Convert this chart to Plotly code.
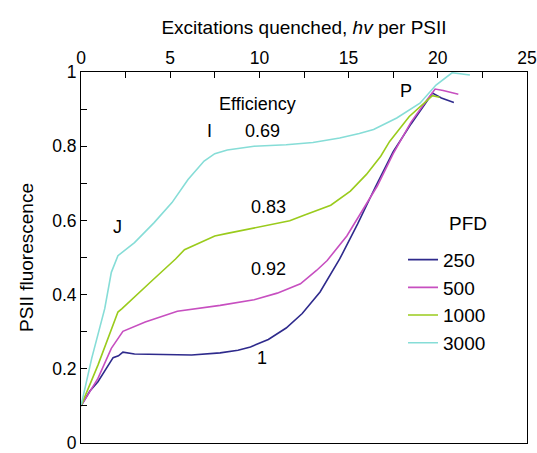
import plotly.graph_objects as go

# PFD 250
x250 = [0, 0.5, 0.95, 1.4, 1.8, 2.1, 2.35, 3.0, 4.5, 6.2, 7.8, 8.8, 9.5, 10.5, 11.5, 12.4, 13.4, 14.5, 15.5, 16.5, 17.5, 18.5, 19.3, 19.7, 20.2, 20.9]
y250 = [0.10, 0.14, 0.165, 0.20, 0.23, 0.235, 0.245, 0.240, 0.238, 0.237, 0.243, 0.250, 0.259, 0.279, 0.310, 0.349, 0.407, 0.496, 0.590, 0.690, 0.785, 0.860, 0.915, 0.943, 0.930, 0.918]

# PFD 500
x500 = [0, 0.5, 0.95, 1.7, 2.35, 3.6, 5.4, 7.8, 9.7, 11.0, 12.3, 13.2, 13.8, 14.9, 15.8, 16.6, 17.5, 18.5, 19.4, 19.85, 20.3, 21.15]
y500 = [0.10, 0.14, 0.174, 0.255, 0.301, 0.326, 0.355, 0.371, 0.386, 0.404, 0.429, 0.465, 0.492, 0.558, 0.630, 0.692, 0.780, 0.865, 0.925, 0.954, 0.950, 0.940]

# PFD 1000
x1000 = [0, 0.95, 2.07, 2.3, 3.9, 5.3, 5.8, 7.5, 8.2, 9.5, 11.7, 12.5, 14.0, 15.1, 16.0, 16.8, 17.3, 18.4, 19.5, 19.7, 20.1]
y1000 = [0.10, 0.21, 0.353, 0.362, 0.434, 0.496, 0.521, 0.558, 0.565, 0.578, 0.599, 0.614, 0.641, 0.679, 0.724, 0.773, 0.813, 0.880, 0.929, 0.936, 0.932]

# PFD 3000
x3000 = [0, 0.6, 1.33, 1.7, 2.07, 3.0, 4.1, 5.1, 6.0, 6.9, 7.5, 8.2, 9.7, 11.5, 13.0, 14.5, 15.6, 16.4, 17.7, 19.0, 19.9, 20.8, 21.8]
y3000 = [0.10, 0.228, 0.362, 0.46, 0.505, 0.540, 0.594, 0.648, 0.710, 0.760, 0.780, 0.790, 0.800, 0.804, 0.810, 0.822, 0.834, 0.845, 0.876, 0.916, 0.965, 0.998, 0.992]

names = ["250", "500", "1000", "3000"]
colors = ["#2e2a8c", "#c74fc0", "#9acb1c", "#86ddd7"]

FONT = "Liberation Sans, Arial, Helvetica, sans-serif"

fig = go.Figure()
for xs, ys, nm, c in zip([x250, x500, x1000, x3000], [y250, y500, y1000, y3000], names, colors):
    fig.add_trace(go.Scatter(x=xs, y=ys, mode="lines", name=nm,
                             line=dict(color=c, width=1.6)))

labels = [
    ("Efficiency", 9.9, 0.915),
    ("I", 7.2, 0.84),
    ("0.69", 10.15, 0.84),
    ("0.83", 10.5, 0.635),
    ("0.92", 10.5, 0.47),
    ("1", 10.15, 0.228),
    ("J", 2.07, 0.582),
    ("P", 18.2, 0.95),
]
for t, ax, ay in labels:
    fig.add_annotation(x=ax, y=ay, text=t, showarrow=False,
                       font=dict(size=18, color="black", family=FONT))

# legend title
fig.add_annotation(x=21.67, y=0.592, text="PFD", showarrow=False,
                   font=dict(size=19, color="black", family=FONT))

fig.update_layout(
    width=537, height=453,
    margin=dict(l=81, r=10, t=72, b=10),
    plot_bgcolor="white", paper_bgcolor="white",
    font=dict(family=FONT, size=17, color="black"),
    showlegend=True,
    legend=dict(x=0.722, y=0.545, xanchor="left", yanchor="top",
                font=dict(size=19), bgcolor="rgba(0,0,0,0)",
                itemwidth=30, tracegroupgap=0),
    xaxis=dict(side="top", range=[0, 25], dtick=5, tick0=0, automargin=False,
               ticks="inside", ticklen=6, tickcolor="black",
               ticklabeloverflow="allow",
               showline=True, linecolor="black", linewidth=1, mirror=True,
               showgrid=False, zeroline=False,
               minor=dict(dtick=2.5, ticks="inside", ticklen=6, tickcolor="black"),
               tickfont=dict(size=17.5),
               title=dict(text="Excitations quenched, <i>hv</i> per PSII",
                          font=dict(size=19), standoff=8)),
    yaxis=dict(range=[0, 1], dtick=0.2, tick0=0, automargin=False,
               ticks="inside", ticklen=6, tickcolor="black",
               ticklabeloverflow="allow",
               showline=True, linecolor="black", linewidth=1, mirror=True,
               showgrid=False, zeroline=False,
               minor=dict(dtick=0.1, ticks="inside", ticklen=6, tickcolor="black"),
               tickfont=dict(size=17.5),
               title=dict(text="PSII fluorescence", font=dict(size=19), standoff=13)),
)

fig.write_html("out.html")
